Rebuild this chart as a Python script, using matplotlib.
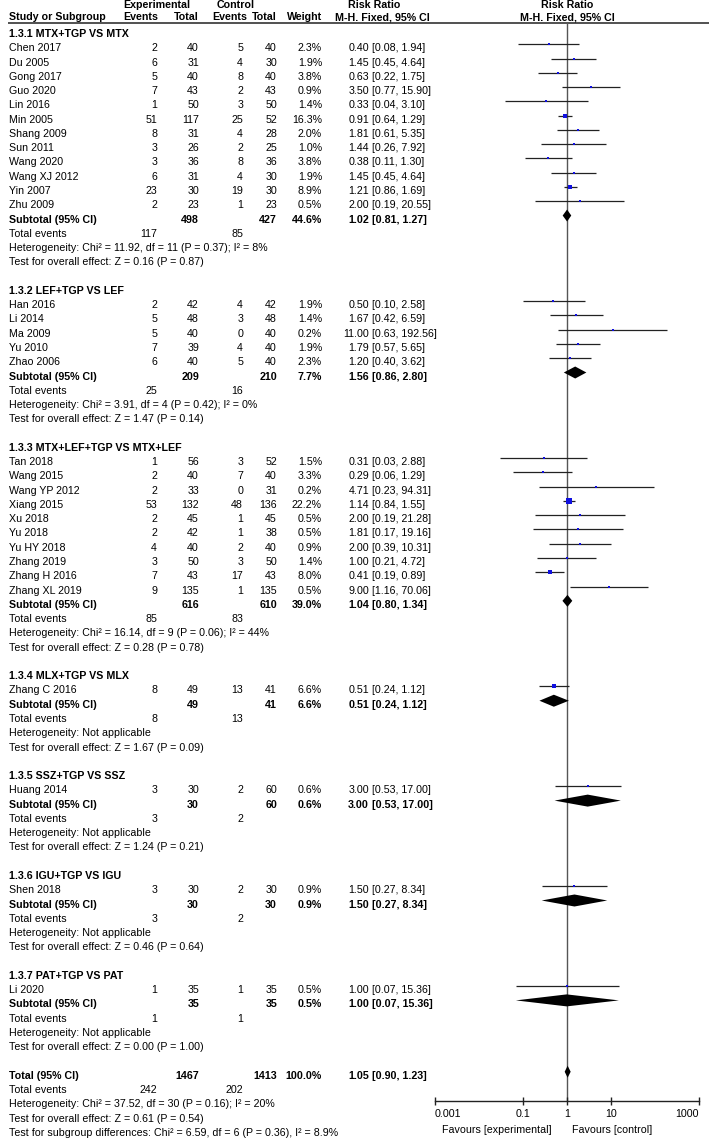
import matplotlib
matplotlib.use("Agg")
import matplotlib.pyplot as plt
import numpy as np

plt.rcParams['font.family'] = ['Liberation Sans', 'DejaVu Sans']

# ---------------- data ----------------
group_titles = ["1.3.1 MTX+TGP VS MTX", "1.3.2 LEF+TGP VS LEF", "1.3.3 MTX+LEF+TGP VS MTX+LEF",
                "1.3.4 MLX+TGP VS MLX", "1.3.5 SSZ+TGP VS SSZ", "1.3.6 IGU+TGP VS IGU",
                "1.3.7 PAT+TGP VS PAT"]

study_group = [0]*12 + [1]*5 + [2]*10 + [3] + [4] + [5] + [6]
study_names = ["Chen 2017", "Du 2005", "Gong 2017", "Guo 2020", "Lin 2016", "Min 2005", "Shang 2009",
               "Sun 2011", "Wang 2020", "Wang XJ 2012", "Yin 2007", "Zhu 2009",
               "Han 2016", "Li 2014", "Ma 2009", "Yu 2010", "Zhao 2006",
               "Tan 2018", "Wang 2015", "Wang YP 2012", "Xiang 2015", "Xu 2018", "Yu 2018",
               "Yu HY 2018", "Zhang 2019", "Zhang H 2016", "Zhang XL 2019",
               "Zhang C 2016", "Huang 2014", "Shen 2018", "Li 2020"]
exp_events = [2, 6, 5, 7, 1, 51, 8, 3, 3, 6, 23, 2,
              2, 5, 5, 7, 6,
              1, 2, 2, 53, 2, 2, 4, 3, 7, 9,
              8, 3, 3, 1]
exp_total = [40, 31, 40, 43, 50, 117, 31, 26, 36, 31, 30, 23,
             42, 48, 40, 39, 40,
             56, 40, 33, 132, 45, 42, 40, 50, 43, 135,
             49, 30, 30, 35]
ctl_events = [5, 4, 8, 2, 3, 25, 4, 2, 8, 4, 19, 1,
              4, 3, 0, 4, 5,
              3, 7, 0, 48, 1, 1, 2, 3, 17, 1,
              13, 2, 2, 1]
ctl_total = [40, 30, 40, 43, 50, 52, 28, 25, 36, 30, 30, 23,
             42, 48, 40, 40, 40,
             52, 40, 31, 136, 45, 38, 40, 50, 43, 135,
             41, 60, 30, 35]
weights = [2.3, 1.9, 3.8, 0.9, 1.4, 16.3, 2.0, 1.0, 3.8, 1.9, 8.9, 0.5,
           1.9, 1.4, 0.2, 1.9, 2.3,
           1.5, 3.3, 0.2, 22.2, 0.5, 0.5, 0.9, 1.4, 8.0, 0.5,
           6.6, 0.6, 0.9, 0.5]
rr = [0.40, 1.45, 0.63, 3.50, 0.33, 0.91, 1.81, 1.44, 0.38, 1.45, 1.21, 2.00,
      0.50, 1.67, 11.00, 1.79, 1.20,
      0.31, 0.29, 4.71, 1.14, 2.00, 1.81, 2.00, 1.00, 0.41, 9.00,
      0.51, 3.00, 1.50, 1.00]
rr_lo = [0.08, 0.45, 0.22, 0.77, 0.04, 0.64, 0.61, 0.26, 0.11, 0.45, 0.86, 0.19,
         0.10, 0.42, 0.63, 0.57, 0.40,
         0.03, 0.06, 0.23, 0.84, 0.19, 0.17, 0.39, 0.21, 0.19, 1.16,
         0.24, 0.53, 0.27, 0.07]
rr_hi = [1.94, 4.64, 1.75, 15.90, 3.10, 1.29, 5.35, 7.92, 1.30, 4.64, 1.69, 20.55,
         2.58, 6.59, 192.56, 5.65, 3.62,
         2.88, 1.29, 94.31, 1.55, 21.28, 19.16, 10.31, 4.72, 0.89, 70.06,
         1.12, 17.00, 8.34, 15.36]

sub_exp_total = [498, 209, 616, 49, 30, 30, 35]
sub_ctl_total = [427, 210, 610, 41, 60, 30, 35]
sub_weight = [44.6, 7.7, 39.0, 6.6, 0.6, 0.9, 0.5]
sub_rr = [1.02, 1.56, 1.04, 0.51, 3.00, 1.50, 1.00]
sub_lo = [0.81, 0.86, 0.80, 0.24, 0.53, 0.27, 0.07]
sub_hi = [1.27, 2.80, 1.34, 1.12, 17.00, 8.34, 15.36]
sub_exp_events = [117, 25, 85, 8, 3, 3, 1]
sub_ctl_events = [85, 16, 83, 13, 2, 2, 1]
sub_het = ["Heterogeneity: Chi\u00b2 = 11.92, df = 11 (P = 0.37); I\u00b2 = 8%",
           "Heterogeneity: Chi\u00b2 = 3.91, df = 4 (P = 0.42); I\u00b2 = 0%",
           "Heterogeneity: Chi\u00b2 = 16.14, df = 9 (P = 0.06); I\u00b2 = 44%",
           "Heterogeneity: Not applicable",
           "Heterogeneity: Not applicable",
           "Heterogeneity: Not applicable",
           "Heterogeneity: Not applicable"]
sub_test = ["Test for overall effect: Z = 0.16 (P = 0.87)",
            "Test for overall effect: Z = 1.47 (P = 0.14)",
            "Test for overall effect: Z = 0.28 (P = 0.78)",
            "Test for overall effect: Z = 1.67 (P = 0.09)",
            "Test for overall effect: Z = 1.24 (P = 0.21)",
            "Test for overall effect: Z = 0.46 (P = 0.64)",
            "Test for overall effect: Z = 0.00 (P = 1.00)"]

total_exp = 1467
total_ctl = 1413
total_weight = 100.0
total_rr, total_lo, total_hi = 1.05, 0.90, 1.23
total_exp_events = 242
total_ctl_events = 202
total_het = "Heterogeneity: Chi\u00b2 = 37.52, df = 30 (P = 0.16); I\u00b2 = 20%"
total_test = "Test for overall effect: Z = 0.61 (P = 0.54)"
subgroup_test = "Test for subgroup differences: Chi\u00b2 = 6.59, df = 6 (P = 0.36), I\u00b2 = 8.9%"

axis_ticks = [0.001, 0.1, 1, 10, 1000]
axis_ticklabels = ["0.001", "0.1", "1", "10", "1000"]

# ---------------- layout ----------------
W, H = 709, 1138
fig = plt.figure(figsize=(W / 100, H / 100), dpi=100)
ax = fig.add_axes([0, 0, 1, 1])
ax.set_xlim(0, W)
ax.set_ylim(H, 0)
ax.axis('off')

PX0, PX1 = 434.7, 698.7
axf = fig.add_axes([PX0 / W, 0, (PX1 - PX0) / W, 1])
axf.set_xscale('log')
axf.set_xlim(0.001, 1000)
axf.set_ylim(H, 0)
axf.patch.set_alpha(0)

FS = 7.7
Y0, DY = 48.3, 14.27
CI_OFF = -4.0
AXIS_Y = 1101.0


def yr(r):
    return Y0 + r * DY


X_NAME = 9
X_EEV, X_ETOT, X_CEV, X_CTOT, X_W = 157, 199, 243, 277, 322
X_RR = 369


def t(x, y, s, ha='right', bold=False):
    ax.text(x, y, s, ha=ha, va='center', fontsize=FS,
            fontweight='bold' if bold else 'normal', color='black')


def rr_text(y, est, lo, hi, bold=False):
    t(X_RR, y, f"{est:.2f}", ha='right', bold=bold)
    t(X_RR + 2.8, y, f"[{lo:.2f}, {hi:.2f}]", ha='left', bold=bold)


# headers
t(157, 5, "Experimental", ha='center', bold=True)
t(236, 5, "Control", ha='center', bold=True)
t(374, 5, "Risk Ratio", ha='center', bold=True)
t(567, 5, "Risk Ratio", ha='center', bold=True)
t(X_NAME, 17, "Study or Subgroup", ha='left', bold=True)
t(158, 17, "Events", bold=True)
t(X_ETOT, 17, "Total", bold=True)
t(247, 17, "Events", bold=True)
t(X_CTOT, 17, "Total", bold=True)
t(X_W, 17, "Weight", bold=True)
t(382, 17, "M-H. Fixed, 95% CI", ha='center', bold=True)
t(567, 17, "M-H. Fixed, 95% CI", ha='center', bold=True)
ax.plot([8, W], [23, 23], color='#333333', lw=1.2, solid_capstyle='butt')

r = -1
for g, title in enumerate(group_titles):
    t(X_NAME, yr(r), title, ha='left', bold=True)
    r += 1
    for i in [k for k, sg in enumerate(study_group) if sg == g]:
        y = yr(r)
        t(X_NAME, y, study_names[i], ha='left')
        t(X_EEV, y, str(exp_events[i]))
        t(X_ETOT, y, str(exp_total[i]))
        t(X_CEV, y, str(ctl_events[i]))
        t(X_CTOT, y, str(ctl_total[i]))
        t(X_W, y, f"{weights[i]:.1f}%")
        rr_text(y, rr[i], rr_lo[i], rr_hi[i])
        yc = y + CI_OFF
        axf.hlines(yc, rr_lo[i], rr_hi[i], color='#222222', lw=0.9, zorder=2, clip_on=False)
        side = max(2.2, 1.2 * np.sqrt(weights[i]))
        axf.plot([rr[i]], [yc], marker='s', ms=side * 0.72, mew=0, color='#1010e0',
                 zorder=3, clip_on=False)
        r += 1
    y = yr(r)
    t(X_NAME, y, "Subtotal (95% CI)", ha='left', bold=True)
    t(X_ETOT, y, str(sub_exp_total[g]), bold=True)
    t(X_CTOT, y, str(sub_ctl_total[g]), bold=True)
    t(X_W, y, f"{sub_weight[g]:.1f}%", bold=True)
    rr_text(y, sub_rr[g], sub_lo[g], sub_hi[g], bold=True)
    yc = y + CI_OFF
    axf.fill([sub_lo[g], sub_rr[g], sub_hi[g], sub_rr[g]], [yc, yc - 6, yc, yc + 6],
             color='black', lw=0, zorder=3, clip_on=False)
    r += 1
    y = yr(r)
    t(X_NAME, y, "Total events", ha='left')
    t(X_EEV, y, str(sub_exp_events[g]))
    t(X_CEV, y, str(sub_ctl_events[g]))
    r += 1
    t(X_NAME, yr(r), sub_het[g], ha='left')
    r += 1
    t(X_NAME, yr(r), sub_test[g], ha='left')
    r += 2

y = yr(r)
t(X_NAME, y, "Total (95% CI)", ha='left', bold=True)
t(X_ETOT, y, str(total_exp), bold=True)
t(X_CTOT, y, str(total_ctl), bold=True)
t(X_W, y, f"{total_weight:.1f}%", bold=True)
rr_text(y, total_rr, total_lo, total_hi, bold=True)
yc = y + CI_OFF
axf.fill([total_lo, total_rr, total_hi, total_rr], [yc, yc - 6, yc, yc + 6],
         color='black', lw=0, zorder=3, clip_on=False)
r += 1
y = yr(r)
t(X_NAME, y, "Total events", ha='left')
t(X_EEV, y, str(total_exp_events))
t(X_CEV, y, str(total_ctl_events))
r += 1
t(X_NAME, yr(r), total_het, ha='left')
r += 1
t(X_NAME, yr(r), total_test, ha='left')
r += 1
t(X_NAME, yr(r), subgroup_test, ha='left')

# vertical reference line
axf.vlines(1, 23, AXIS_Y, color='#555555', lw=1.0, zorder=1, clip_on=False)

# forest axis
for s in ['top', 'left', 'right']:
    axf.spines[s].set_visible(False)
axf.spines['bottom'].set_position(('data', AXIS_Y))
axf.spines['bottom'].set_linewidth(1.0)
axf.spines['bottom'].set_color('#222222')
axf.set_yticks([])
axf.set_xticks(axis_ticks)
axf.set_xticklabels(axis_ticklabels, fontsize=FS)
axf.xaxis.set_minor_locator(matplotlib.ticker.NullLocator())
axf.tick_params(axis='x', direction='inout', length=6, width=1.0, pad=3, color='#222222')
labs = axf.get_xticklabels()
labs[0].set_ha('left')
labs[-1].set_ha('right')

FAV_Y = 1129.7
axf.annotate("Favours [experimental]", xy=(1, FAV_Y), xytext=(-11, 0), textcoords='offset points',
             ha='right', va='center', fontsize=FS, annotation_clip=False)
axf.annotate("Favours [control]", xy=(1, FAV_Y), xytext=(3.5, 0), textcoords='offset points',
             ha='left', va='center', fontsize=FS, annotation_clip=False)

fig.savefig("out.png", dpi=100)
